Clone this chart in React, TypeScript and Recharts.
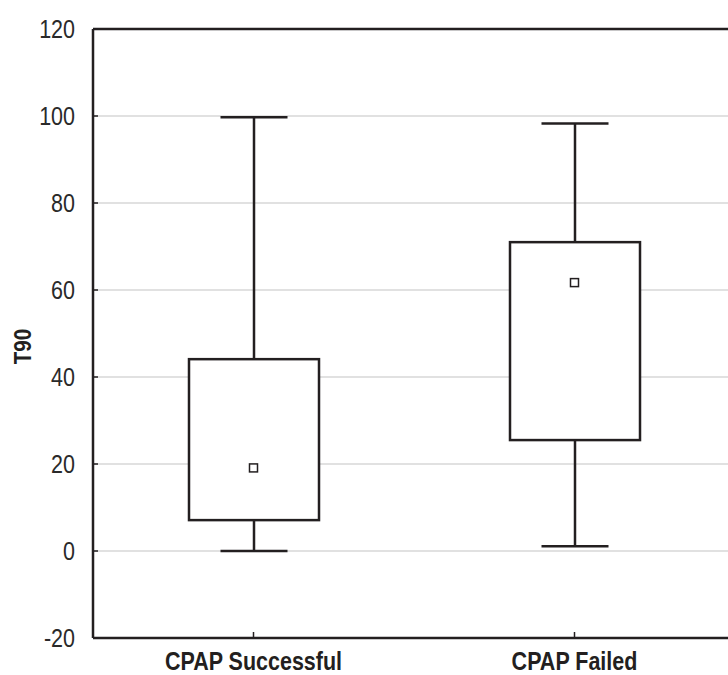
import { ComposedChart, Bar, Scatter, XAxis, YAxis, CartesianGrid, ReferenceLine } from "recharts";

// Box plot summary for each group (T90)
const groups = ["CPAP Successful", "CPAP Failed"];
const minVals = [0, 1.1];
const q1Vals = [7.1, 25.5];
const q3Vals = [44.1, 71.0];
const maxVals = [99.7, 98.3];
const meanVals = [19.1, 61.7];

const yTicks = [-20, 0, 20, 40, 60, 80, 100, 120];

const INK = "#231f20";
const FONT = "'Liberation Sans', Arial, sans-serif";
// horizontal squeeze to get a condensed look from a regular face
const SQUEEZE = 0.86;

// stacked segments: invisible base, lower whisker, box, upper whisker
const rows = groups.map((name, i) => ({
  name,
  base: minVals[i],
  lower: q1Vals[i] - minVals[i],
  box: q3Vals[i] - q1Vals[i],
  upper: maxVals[i] - q3Vals[i],
  mean: meanVals[i],
}));

const CAP = 67;

function LowerWhisker(props: any) {
  const { x, y, width, height } = props;
  const cx = x + width / 2;
  return (
    <g>
      <line x1={cx} x2={cx} y1={y} y2={y + height} stroke={INK} strokeWidth={2.5} />
      <line x1={cx - CAP / 2} x2={cx + CAP / 2} y1={y + height} y2={y + height} stroke={INK} strokeWidth={2.5} />
    </g>
  );
}

function UpperWhisker(props: any) {
  const { x, y, width, height } = props;
  const cx = x + width / 2;
  return (
    <g>
      <line x1={cx} x2={cx} y1={y} y2={y + height} stroke={INK} strokeWidth={2.5} />
      <line x1={cx - CAP / 2} x2={cx + CAP / 2} y1={y} y2={y} stroke={INK} strokeWidth={2.5} />
    </g>
  );
}

function BoxShape(props: any) {
  const { x, y, width, height } = props;
  return <rect x={x} y={y} width={width} height={height} fill="#fff" stroke={INK} strokeWidth={2.5} />;
}

function MeanMarker(props: any) {
  const { cx, cy } = props;
  return <rect x={cx - 4} y={cy - 4} width={8} height={8} fill="#fff" stroke={INK} strokeWidth={1.5} />;
}

function CategoryTick(props: any) {
  const { x, y, payload } = props;
  return (
    <text
      transform={`translate(${x},${y + 18}) scale(${SQUEEZE},1)`}
      textAnchor="middle"
      fill={INK}
      fontSize={25}
      fontWeight={700}
      fontFamily={FONT}
    >
      {payload.value}
    </text>
  );
}

function ValueTick(props: any) {
  const { x, y, payload } = props;
  return (
    <text
      transform={`translate(${x},${y}) scale(${SQUEEZE},1)`}
      textAnchor="end"
      dominantBaseline="central"
      fill="#2a2a2a"
      fontSize={25}
      fontFamily={FONT}
    >
      {payload.value}
    </text>
  );
}

function AxisTitle({ viewBox }: any) {
  const cx = 22.5;
  const cy = viewBox.y + viewBox.height / 2 + 13;
  return (
    <text
      transform={`translate(${cx},${cy}) rotate(-90) scale(${SQUEEZE},1)`}
      textAnchor="middle"
      dominantBaseline="central"
      fill={INK}
      fontSize={24}
      fontWeight={700}
      fontFamily={FONT}
    >
      T90
    </text>
  );
}

export default function App() {
  return (
    <div style={{ position: "absolute", left: 0, top: 0, width: 728, height: 675, overflow: "hidden", background: "#fff" }}>
      <ComposedChart
        width={745}
        height={675}
        data={rows}
        margin={{ top: 29, right: 10, bottom: 0, left: 0 }}
        barCategoryGap={0}
      >
        <CartesianGrid vertical={false} stroke="#c4c4c4" strokeWidth={1.2} />
        <XAxis
          dataKey="name"
          height={37}
          axisLine={{ stroke: INK, strokeWidth: 2.5 }}
          tickLine={{ stroke: INK, strokeWidth: 1.5 }}
          tickSize={-6}
          tickMargin={20}
          tick={<CategoryTick />}
        />
        <YAxis
          domain={[-20, 120]}
          ticks={yTicks}
          width={93}
          allowDataOverflow
          axisLine={{ stroke: INK, strokeWidth: 2.5 }}
          tickLine={{ stroke: INK, strokeWidth: 1.5 }}
          tickSize={-5}
          tickMargin={23}
          tick={<ValueTick />}
          label={<AxisTitle />}
        />
        <ReferenceLine y={120} stroke={INK} strokeWidth={2.5} />
        <Bar dataKey="base" stackId="b" fill="transparent" barSize={130} isAnimationActive={false} />
        <Bar dataKey="lower" stackId="b" barSize={130} shape={<LowerWhisker />} isAnimationActive={false} />
        <Bar dataKey="box" stackId="b" barSize={130} shape={<BoxShape />} isAnimationActive={false} />
        <Bar dataKey="upper" stackId="b" barSize={130} shape={<UpperWhisker />} isAnimationActive={false} />
        <Scatter dataKey="mean" shape={<MeanMarker />} isAnimationActive={false} />
      </ComposedChart>
    </div>
  );
}
